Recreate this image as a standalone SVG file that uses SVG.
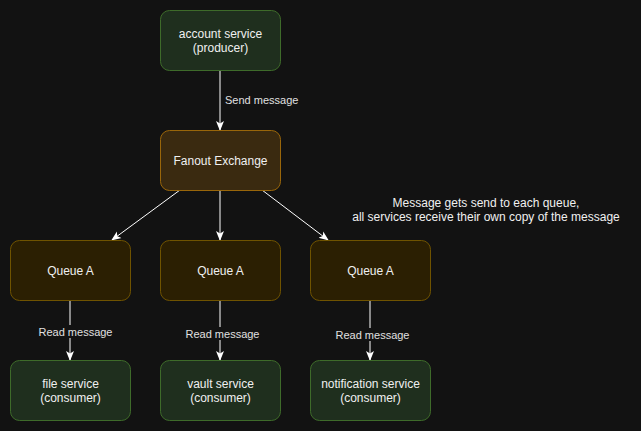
<svg xmlns="http://www.w3.org/2000/svg" width="641" height="431" viewBox="0 0 641 431">
<defs>
<style>
.svc rect{fill:#1f2f1e;stroke:#3e6b2a;stroke-width:1}
.fan rect{fill:#3a2a10;stroke:#99660a;stroke-width:1}
.q rect{fill:#2b1f02;stroke:#6f5300;stroke-width:1}
text{font-family:"Liberation Sans",Arial,sans-serif;font-size:12px;fill:#f0f0f0;text-anchor:middle}
.lbl{fill:#e0e0e0;font-size:11px}
.edge{stroke:#ffffff;stroke-width:1;fill:none}
</style>
<marker id="ah" viewBox="0 0 10 10" refX="9" refY="5" markerWidth="10" markerHeight="10" markerUnits="userSpaceOnUse" orient="auto">
<path d="M0,1 L10,5 L0,9 L2.5,5 Z" fill="#ffffff"/>
</marker>
</defs>
<rect width="641" height="431" fill="#121212"/>
<g id="connectors">
<line class="edge" x1="220" y1="70" x2="220" y2="130" marker-end="url(#ah)"/>
<text class="lbl" x="225" y="104" style="text-anchor:start">Send message</text>
<line class="edge" x1="180" y1="190" x2="112" y2="240" marker-end="url(#ah)"/>
<line class="edge" x1="220" y1="190" x2="220" y2="240" marker-end="url(#ah)"/>
<line class="edge" x1="262" y1="190" x2="328" y2="240" marker-end="url(#ah)"/>
<line class="edge" x1="70" y1="300" x2="70" y2="360" marker-end="url(#ah)"/>
<line class="edge" x1="220" y1="300" x2="220" y2="360" marker-end="url(#ah)"/>
<line class="edge" x1="370" y1="300" x2="370" y2="360" marker-end="url(#ah)"/>
<rect x="36" y="325" width="80" height="13" fill="#121212"/>
<text class="lbl" x="75.5" y="336">Read message</text>
<rect x="184" y="327" width="78" height="13" fill="#121212"/>
<text class="lbl" x="222.5" y="338">Read message</text>
<rect x="334" y="328" width="78" height="13" fill="#121212"/>
<text class="lbl" x="372.5" y="339">Read message</text>
</g>
<g id="account-service" class="svc">
<rect x="160.5" y="10.5" width="120" height="60" rx="9"/>
<text x="220.5" y="38">account service</text>
<text x="220.5" y="52">(producer)</text>
</g>
<g id="fanout-exchange" class="fan">
<rect x="160.5" y="130.5" width="120" height="60" rx="9"/>
<text x="220.5" y="165">Fanout Exchange</text>
</g>
<g id="queue-a-1" class="q">
<rect x="10.5" y="240.5" width="120" height="60" rx="9"/>
<text x="70.5" y="275">Queue A</text>
</g>
<g id="queue-a-2" class="q">
<rect x="160.5" y="240.5" width="120" height="60" rx="9"/>
<text x="220.5" y="275">Queue A</text>
</g>
<g id="queue-a-3" class="q">
<rect x="310.5" y="240.5" width="120" height="60" rx="9"/>
<text x="370.5" y="275">Queue A</text>
</g>
<g id="file-service" class="svc">
<rect x="10.5" y="360.5" width="120" height="60" rx="9"/>
<text x="70.5" y="388">file service</text>
<text x="70.5" y="402">(consumer)</text>
</g>
<g id="vault-service" class="svc">
<rect x="160.5" y="360.5" width="120" height="60" rx="9"/>
<text x="220.5" y="388">vault service</text>
<text x="220.5" y="402">(consumer)</text>
</g>
<g id="notification-service" class="svc">
<rect x="310.5" y="360.5" width="120" height="60" rx="9"/>
<text x="370.5" y="388">notification service</text>
<text x="370.5" y="402">(consumer)</text>
</g>
<g id="note">
<text x="486" y="207">Message gets send to each queue,</text>
<text x="486" y="221">all services receive their own copy of the message</text>
</g>
</svg>
